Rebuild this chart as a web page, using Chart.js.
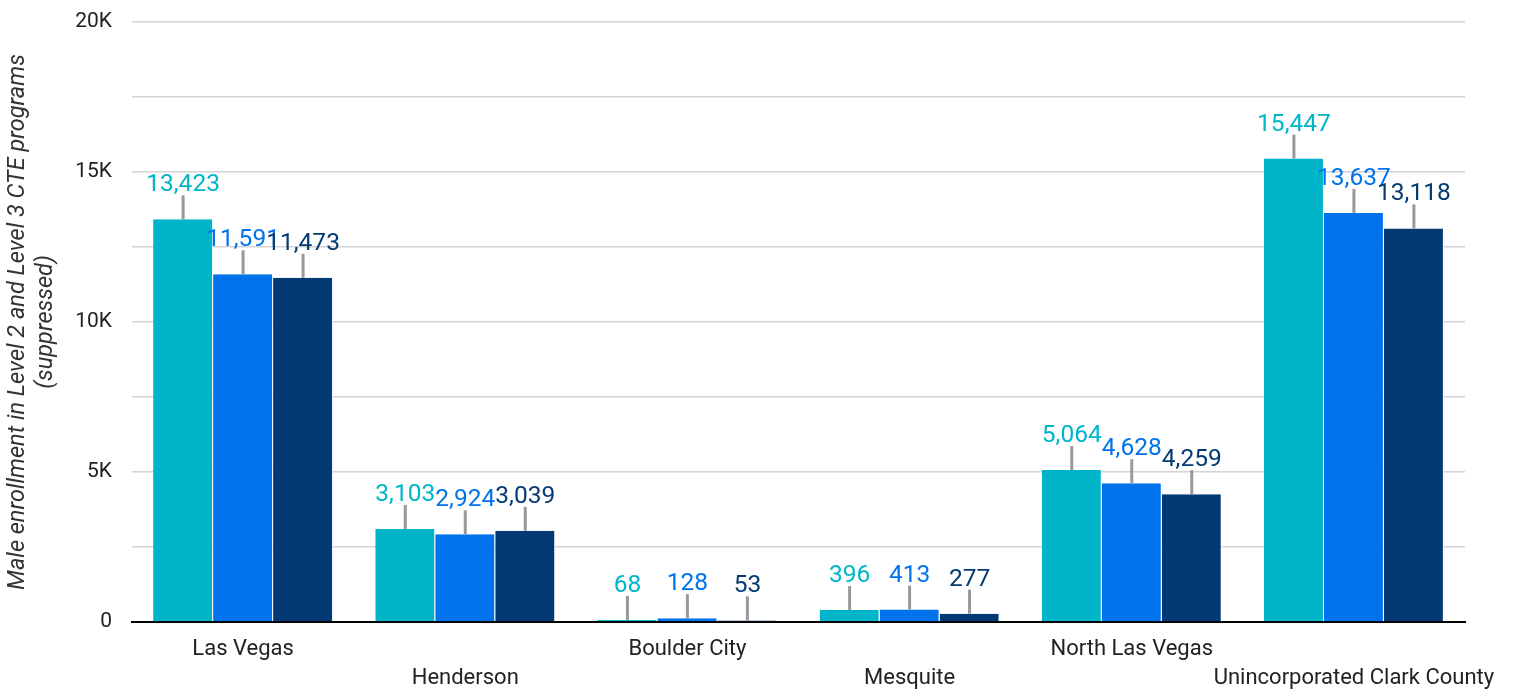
<!DOCTYPE html>
<html>
<head>
<meta charset="utf-8">
<script src="https://cdn.jsdelivr.net/npm/chart.js@4.4.1/dist/chart.umd.min.js"></script>
<style>
  html, body { margin: 0; padding: 0; background: #fff; }
  #wrap { position: relative; width: 1515px; height: 690px; }
</style>
</head>
<body>
<div id="wrap"><canvas id="c"></canvas></div>
<script>
const categories = ["Las Vegas", "Henderson", "Boulder City", "Mesquite", "North Las Vegas", "Unincorporated Clark County"];
const seriesA = [13423, 3103, 68, 396, 5064, 15447];
const seriesB = [11591, 2924, 128, 413, 4628, 13637];
const seriesC = [11473, 3039, 53, 277, 4259, 13118];
const seriesNames = ["Series 1", "Series 2", "Series 3"];
const seriesColors = ["#00B5C9", "#0072EC", "#033A73"];
const yTickValues = [0, 5000, 10000, 15000, 20000];
const yTickLabels = ["0", "5K", "10K", "15K", "20K"];
const yTitle = ["Male enrollment in Level 2 and Level 3 CTE programs", "(suppressed)"];

const FONT = "Roboto, 'Noto Sans', sans-serif";

const staggered = categories.map((c, i) => i % 2 === 0 ? [c, ""] : ["", c]);

const labelPlugin = {
  id: "valueLabels",
  afterDatasetsDraw(chart) {
    const ctx = chart.ctx;
    chart.data.datasets.forEach((ds, di) => {
      const meta = chart.getDatasetMeta(di);
      meta.data.forEach((bar, i) => {
        const v = ds.data[i];
        ctx.save();
        ctx.strokeStyle = "#999999";
        ctx.lineWidth = 3;
        ctx.beginPath();
        ctx.moveTo(bar.x, bar.y);
        ctx.lineTo(bar.x, bar.y - 24);
        ctx.stroke();
        ctx.fillStyle = ds.backgroundColor;
        ctx.font = "24.5px " + FONT;
        ctx.textAlign = "center";
        ctx.textBaseline = "alphabetic";
        ctx.fillText(v.toLocaleString("en-US"), bar.x, bar.y - 28);
        ctx.restore();
      });
    });
  }
};

const datasets = [seriesA, seriesB, seriesC].map((d, i) => ({
  label: seriesNames[i],
  data: d,
  backgroundColor: seriesColors[i],
  borderColor: "#ffffff",
  borderWidth: { left: 0, right: 1, top: 0, bottom: 0 },
  borderSkipped: false,
  categoryPercentage: 0.81,
  barPercentage: 1.0
}));

new Chart(document.getElementById("c"), {
  type: "bar",
  data: { labels: staggered, datasets },
  options: {
    responsive: true,
    maintainAspectRatio: false,
    animation: false,
    layout: { padding: { left: 4, right: 50, top: 22, bottom: 0 } },
    plugins: {
      legend: { display: false },
      tooltip: { enabled: false }
    },
    scales: {
      x: {
        grid: { display: false, drawTicks: false },
        border: { display: true, color: "#000000", width: 2 },
        ticks: {
          color: "#222222",
          font: { family: FONT, size: 22, lineHeight: 1.32 },
          maxRotation: 0,
          autoSkip: false,
          padding: 13
        },
        afterFit(scale) { scale.height = 68; }
      },
      y: {
        min: 0,
        max: 20000,
        grid: { color: "#d4d4d4", lineWidth: 1.5, drawTicks: true, tickLength: 12, tickColor: "rgba(0,0,0,0)" },
        border: { display: false },
        ticks: {
          stepSize: 2500,
          color: "#222222",
          font: { family: FONT, size: 21 },
          padding: 8,
          callback(value) {
            const k = yTickValues.indexOf(value);
            return k >= 0 ? yTickLabels[k] : "";
          }
        },
        title: {
          display: true,
          text: yTitle,
          color: "#333333",
          font: { family: FONT, size: 23.5, style: "italic", lineHeight: 1.2 },
          padding: { top: 0, bottom: 8 }
        },
        afterFit(scale) { scale.width = 128; }
      }
    }
  },
  plugins: [labelPlugin]
});
</script>
</body>
</html>
